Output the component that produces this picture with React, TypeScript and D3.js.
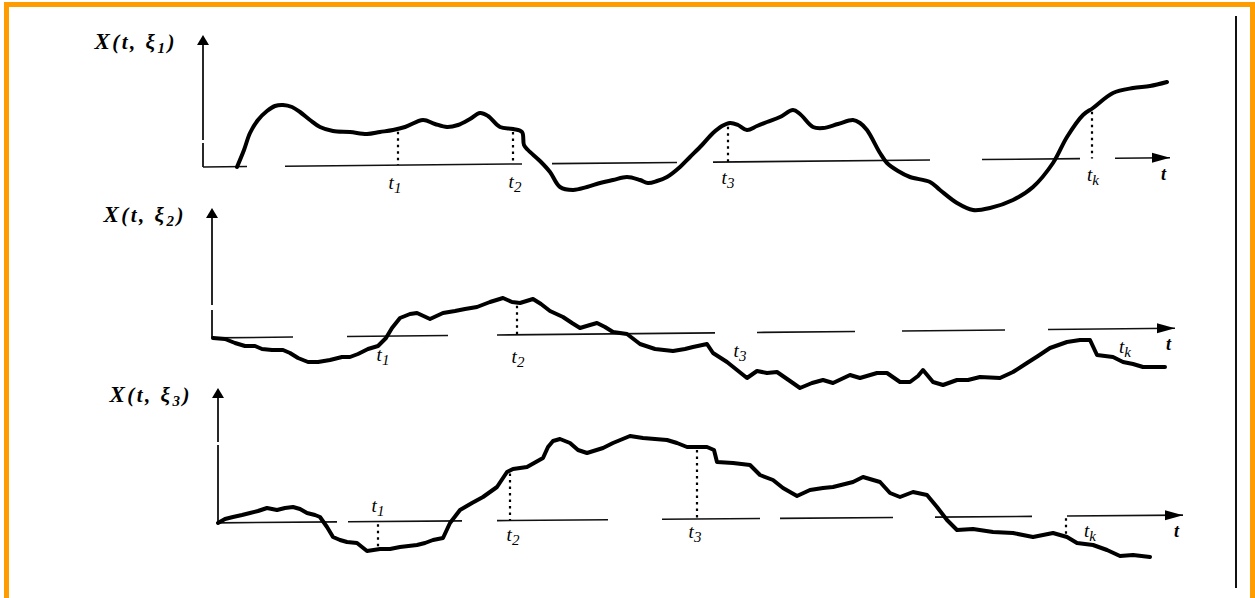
import React, { useEffect, useRef } from "react";
import * as d3 from "d3";

const W = 1255;
const H = 598;

// sample path 1: [t, X]
const path1: [number, number][] = [
  [3.7, 0], [4.4, 1.7], [5.0, 3.4], [5.8, 4.7], [6.7, 5.6], [7.5, 6.1], [8.3, 6.2],
  [9.2, 6.0], [10.0, 5.5], [11.0, 4.7], [12.0, 4.0], [13.3, 3.6], [15.0, 3.5],
  [16.7, 3.3], [18.0, 3.5], [19.3, 3.7], [20.5, 4.0], [22.3, 4.7], [23.5, 4.3],
  [24.7, 4.0], [25.8, 4.2], [27.0, 4.8], [28.0, 5.4], [28.8, 5.1], [30.0, 4.0],
  [31.3, 3.8], [32.2, 3.5], [32.4, 2.2], [32.8, 1.7], [34.0, 0.6], [35.0, -0.5],
  [36.0, -2.0], [37.3, -2.3], [38.7, -2.0], [40.0, -1.6], [41.3, -1.3], [42.7, -1.0],
  [44.0, -1.3], [44.8, -1.6], [45.7, -1.4], [46.7, -1.0], [48.0, 0], [49.0, 1.0],
  [50.2, 2.2], [51.3, 3.4], [52.2, 4.1], [53.0, 4.4], [53.8, 4.2], [54.7, 3.7],
  [55.7, 4.1], [56.7, 4.5], [58.0, 5.0], [59.3, 5.7], [60.0, 5.3], [61.3, 4.0],
  [62.3, 3.9], [63.8, 4.3], [65.3, 4.7], [66.0, 4.4], [66.7, 3.7], [68.0, 1.4],
  [68.7, 0.4], [69.8, -0.4], [71.0, -1.0], [73.0, -1.5], [74.0, -2.3], [75.7, -3.6],
  [77.3, -4.3], [79.0, -4.1], [81.3, -3.3], [83.3, -2.0], [85.3, 0.4], [86.7, 3.0],
  [88.3, 5.2], [89.3, 5.9], [91.3, 7.4], [93.3, 7.9], [95.0, 8.1], [96.7, 8.5],
];

// sample path 2
const path2: [number, number][] = [
  [1.3, 0], [2.5, -0.1], [3.5, -0.5], [4.5, -0.8], [5.5, -0.8], [6.2, -1.1],
  [7.2, -1.2], [8.3, -1.2], [9.0, -1.5], [9.8, -2.0], [10.8, -2.4], [11.8, -2.4],
  [13.0, -2.2], [14.2, -1.9], [15.0, -1.9], [15.8, -1.6], [16.8, -1.1], [17.8, -0.8],
  [18.6, 0], [19.2, 1.0], [20.0, 2.0], [21.0, 2.4], [21.7, 2.5], [23.0, 1.9],
  [24.3, 2.5], [25.5, 2.7], [26.5, 2.9], [27.7, 3.1], [29.0, 3.6], [30.3, 4.0],
  [31.2, 3.6], [32.0, 3.5], [33.3, 3.9], [34.1, 3.4], [35.0, 2.7], [36.3, 2.1],
  [37.2, 1.5], [38.0, 1.0], [39.0, 1.3], [39.7, 1.5], [40.5, 1.1], [41.3, 0.6],
  [42.7, 0.4], [44.0, -0.6], [45.5, -1.1], [47.3, -1.3], [48.5, -1.1], [49.3, -0.9],
  [50.7, -0.6], [51.3, -1.5], [52.7, -2.4], [53.7, -3.2], [54.7, -4.0], [55.7, -3.3],
  [56.7, -3.5], [57.7, -3.4], [59.0, -4.3], [60.0, -5.0], [61.2, -4.5], [62.3, -4.2],
  [63.3, -4.5], [65.0, -3.7], [66.0, -4.0], [67.7, -3.5], [68.7, -3.5], [70.0, -4.4],
  [71.0, -4.4], [71.8, -3.8], [72.3, -3.2], [73.3, -4.4], [74.3, -4.7], [75.7, -4.2],
  [76.8, -4.2], [78.0, -3.9], [80.0, -4.0], [81.3, -3.4], [82.7, -2.5], [83.8, -1.8],
  [85.0, -1.0], [86.7, -0.4], [88.0, -0.2], [89.0, -0.2], [89.7, -1.7], [91.3, -1.9],
  [92.3, -2.4], [93.3, -2.6], [94.3, -2.9], [96.5, -2.9],
];

// sample path 3
const path3: [number, number][] = [
  [1.8, 0], [2.5, 0.4], [3.3, 0.6], [4.2, 0.8], [5.0, 1.0], [5.8, 1.2], [6.7, 1.5],
  [7.7, 1.3], [8.5, 1.5], [9.3, 1.6], [10.0, 1.4], [10.7, 1.0], [11.5, 0.8],
  [12.0, 0.6], [12.7, -0.4], [13.3, -1.4], [14.0, -1.7], [14.7, -1.9], [15.7, -2.0],
  [16.7, -2.8], [18.0, -2.6], [19.0, -2.6], [20.0, -2.4], [21.7, -2.2], [22.5, -2.0],
  [23.3, -1.7], [24.3, -1.5], [25.0, 0], [26.0, 1.3], [27.2, 2.0], [28.3, 2.6],
  [29.7, 3.6], [30.7, 5.1], [31.3, 5.4], [32.7, 5.6], [34.3, 6.5], [34.8, 7.6],
  [35.3, 8.2], [36.0, 8.4], [37.0, 8.0], [37.8, 7.3], [38.7, 7.0], [40.3, 7.5],
  [41.3, 8.0], [43.0, 8.7], [44.3, 8.5], [46.7, 8.3], [47.7, 8.0], [48.7, 7.6],
  [50.7, 7.6], [51.4, 7.3], [51.7, 6.1], [53.3, 6.0], [55.0, 5.8], [56.0, 4.8],
  [57.3, 4.3], [58.3, 3.5], [59.7, 2.7], [61.0, 3.3], [62.3, 3.5], [63.3, 3.6],
  [65.3, 4.1], [66.3, 4.6], [68.0, 4.1], [69.0, 3.0], [70.0, 2.6], [71.3, 3.1],
  [72.7, 2.8], [73.7, 1.6], [74.7, 0.3], [75.7, -0.7], [77.3, -0.6], [79.3, -0.9],
  [81.3, -1.0], [83.3, -1.4], [85.3, -1.0], [86.7, -1.4], [87.7, -2.0], [89.3, -2.2],
  [90.7, -2.7], [92.0, -3.3], [93.3, -3.2], [95.0, -3.4],
];

// broken time-axis pieces [tStart, tEnd] (scan gaps)
const axisSegs1 = [[0.3, 4.7], [8.5, 32.2], [35.2, 47.7], [51.3, 73.0], [78.2, 88.0], [91.5, 97.0]];
const axisSegs2 = [[1.2, 9.3], [14.7, 24.8], [29.7, 51.5], [55.7, 65.5], [70.2, 80.5], [84.8, 97.5]];
const axisSegs3 = [[1.8, 13.7], [14.8, 26.2], [29.7, 40.8], [46.2, 56.0], [58.0, 69.3], [73.5, 83.2], [86.7, 98.3]];

// observation instants t1, t2, t3, tk
const tickNames = ["1", "2", "3", "k"];
const ticks1 = [19.8, 31.3, 52.8, 89.2];
const ticks2 = [18.3, 31.7, 52.5, 89.2];
const ticks3 = [17.8, 31.0, 49.7, 86.6];
const tickLabelT1 = [19.5, 31.5, 52.8, 89.3];
const tickLabelT2 = [18.3, 31.8, 54.0, 92.5];
const tickLabelT3 = [17.8, 31.3, 49.5, 89.0];

const panels = [
  { path: path1, segs: axisSegs1, ticks: ticks1, labelT: tickLabelT1, idx: "1",
    base: 167, drift: 0.95, yAxisT: 0.3, yTop: 13.2, gap: [2.4, 2.7],
    dotted: [true, true, true, true], labelDy: [24, 24, 22, 22], smooth: true },
  { path: path2, segs: axisSegs2, ticks: ticks2, labelT: tickLabelT2, idx: "2",
    base: 338, drift: 1.0, yAxisT: 1.2, yTop: 13.0, gap: [2.8, 3.3],
    dotted: [false, true, false, false], labelDy: [25, 28, 24, 24], smooth: false },
  { path: path3, segs: axisSegs3, ticks: ticks3, labelT: tickLabelT3, idx: "3",
    base: 523, drift: 0.8, yAxisT: 1.8, yTop: 13.5, gap: [7.8, 8.1],
    dotted: [true, true, true, true], labelDy: [-10, 21, 19, 21], smooth: false },
];

const App = () => {
  const svgRef = useRef<SVGSVGElement>(null);

  useEffect(() => {
    const svg = d3.select(svgRef.current);
    svg.selectAll("*").remove();

    const x = d3.scaleLinear().domain([0, 100]).range([200, 1200]);
    const serif = "'Liberation Serif', 'DejaVu Serif', serif";

    // frame
    svg.append("rect").attr("width", W).attr("height", H).attr("fill", "#fff");
    const orange = "#ff9d00";
    svg.append("rect").attr("x", 4).attr("y", 2).attr("width", W - 4).attr("height", 5).attr("fill", orange);
    svg.append("rect").attr("x", 4).attr("y", 2).attr("width", 5).attr("height", H).attr("fill", orange);
    svg.append("rect").attr("x", 1250).attr("y", 2).attr("width", 5).attr("height", H).attr("fill", orange);
    svg.append("line").attr("x1", 1236).attr("x2", 1236).attr("y1", 16).attr("y2", 588)
      .attr("stroke", "#111").attr("stroke-width", 2);

    panels.forEach((p) => {
      const y = d3.scaleLinear().domain([0, 10]).range([p.base, p.base - 100]);
      const axisV = (t: number) => (p.drift * t) / 100;
      const g = svg.append("g");

      // time axis pieces
      g.selectAll(".seg")
        .data(p.segs)
        .enter()
        .append("line")
        .attr("x1", (d) => x(d[0]))
        .attr("x2", (d) => x(d[1]))
        .attr("y1", (d) => y(axisV(d[0])))
        .attr("y2", (d) => y(axisV(d[1])))
        .attr("stroke", "#111")
        .attr("stroke-width", 1.6);

      // x arrow head
      const tEnd = p.segs[p.segs.length - 1][1];
      const ax = x(tEnd);
      const ay = y(axisV(tEnd));
      g.append("path")
        .attr("d", `M${ax},${ay} L${ax - 18},${ay - 5} L${ax - 18},${ay + 5} Z`)
        .attr("fill", "#000");
      g.append("text")
        .attr("x", ax - 9)
        .attr("y", ay + 22)
        .attr("font-family", serif)
        .attr("font-style", "italic")
        .attr("font-weight", "bold")
        .attr("font-size", 18)
        .text("t");

      // value axis
      const yx = x(p.yAxisT);
      g.append("line").attr("x1", yx).attr("x2", yx)
        .attr("y1", y(0)).attr("y2", y(p.gap[0]))
        .attr("stroke", "#111").attr("stroke-width", 1.8);
      g.append("line").attr("x1", yx).attr("x2", yx)
        .attr("y1", y(p.gap[1])).attr("y2", y(p.yTop) + 8)
        .attr("stroke", "#111").attr("stroke-width", 1.8);
      const ty = y(p.yTop);
      g.append("path")
        .attr("d", `M${yx},${ty} L${yx - 6},${ty + 10} L${yx + 6},${ty + 10} Z`)
        .attr("fill", "#000");

      // axis title X(t, xi_n)
      const title = g.append("text")
        .attr("x", yx - 26)
        .attr("y", ty + 14)
        .attr("text-anchor", "end")
        .attr("font-family", serif)
        .attr("font-style", "italic")
        .attr("font-weight", "bold")
        .attr("font-size", 21)
        .attr("letter-spacing", 2.5)
        .attr("fill", "#000");
      title.append("tspan").attr("font-size", 23).text("X");
      title.append("tspan").text("(t, ξ");
      title.append("tspan").attr("font-size", 15).attr("dy", 4).text(p.idx);
      title.append("tspan").attr("dy", -4).text(")");

      // sample path
      const line = d3.line<[number, number]>()
        .x((d) => x(d[0]))
        .y((d) => y(d[1]))
        .curve(p.smooth ? d3.curveCatmullRom : d3.curveLinear);
      g.append("path")
        .datum(p.path)
        .attr("d", line)
        .attr("fill", "none")
        .attr("stroke", "#000")
        .attr("stroke-width", 4)
        .attr("stroke-linejoin", "round")
        .attr("stroke-linecap", "round");

      // value of path at t
      const bis = d3.bisector((d: [number, number]) => d[0]).left;
      const valueAt = (t: number) => {
        const i = Math.max(1, Math.min(p.path.length - 1, bis(p.path, t)));
        const a = p.path[i - 1];
        const b = p.path[i];
        const k = (t - a[0]) / (b[0] - a[0]);
        return a[1] + k * (b[1] - a[1]);
      };

      // dotted drops
      p.ticks.forEach((t, i) => {
        if (!p.dotted[i]) return;
        const v = valueAt(t);
        const a = axisV(t);
        const top = v > a ? v - 0.3 : v + 0.3;
        g.append("line")
          .attr("x1", x(t)).attr("x2", x(t))
          .attr("y1", y(top)).attr("y2", y(a))
          .attr("stroke", "#000")
          .attr("stroke-width", 2.2)
          .attr("stroke-dasharray", "2.5,4");
      });

      // tick labels t1..tk
      p.labelT.forEach((t, i) => {
        const tx = g.append("text")
          .attr("x", x(t))
          .attr("y", y(axisV(t)) + p.labelDy[i])
          .attr("text-anchor", "middle")
          .attr("font-family", serif)
          .attr("font-style", "italic")
          .attr("font-size", 19)
          .attr("fill", "#000");
        tx.append("tspan").text("t");
        tx.append("tspan").attr("font-size", 15).attr("dy", 4).text(tickNames[i]);
      });
    });
  }, []);

  return (
    <svg
      ref={svgRef}
      width={W}
      height={H}
      style={{ position: "absolute", left: 0, top: 0, display: "block" }}
    />
  );
};

export default App;
